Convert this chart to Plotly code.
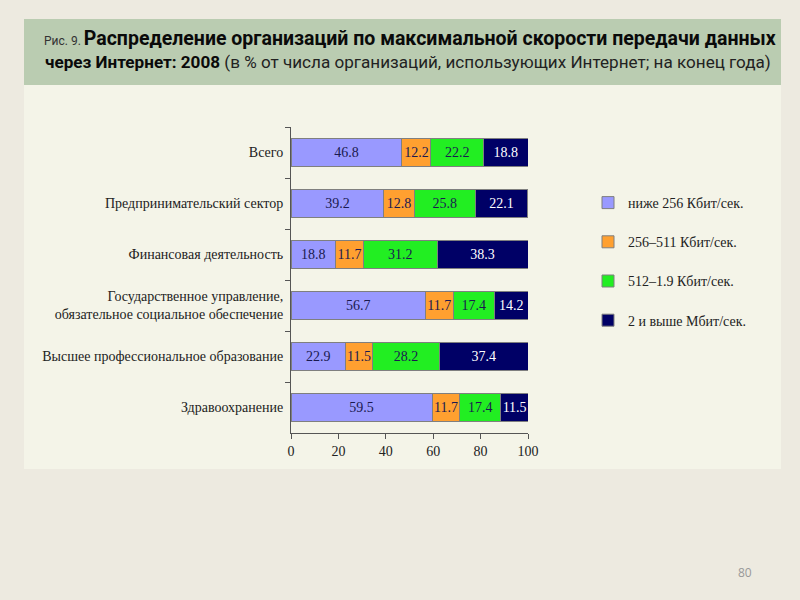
import plotly.graph_objects as go

categories = [
    "Всего",
    "Предпринимательский сектор",
    "Финансовая деятельность",
    "Государственное управление,<br>обязательное социальное обеспечение",
    "Высшее профессиональное образование",
    "Здравоохранение",
]
series_names = [
    "ниже 256 Кбит/сек.",
    "256–511 Кбит/сек.",
    "512–1.9 Кбит/сек.",
    "2 и выше Мбит/сек.",
]
below_256 = [46.8, 39.2, 18.8, 56.7, 22.9, 59.5]
k256_511 = [12.2, 12.8, 11.7, 11.7, 11.5, 11.7]
k512_19 = [22.2, 25.8, 31.2, 17.4, 28.2, 17.4]
m2_plus = [18.8, 22.1, 38.3, 14.2, 37.4, 11.5]
x_ticks = [0, 20, 40, 60, 80, 100]

series_values = [below_256, k256_511, k512_19, m2_plus]
colors = ["#9999FF", "#FFA030", "#22EE22", "#000066"]
text_colors = ["#1A1A50", "#1A1A50", "#1A1A50", "#FFFFFF"]

W, H = 800, 600
SERIF = "Liberation Serif, Times New Roman, serif"
SANS = "Roboto, Liberation Sans, sans-serif"

fig = go.Figure()
for i, (name, vals) in enumerate(zip(series_names, series_values)):
    fig.add_trace(go.Bar(
        y=categories, x=vals, name=name, orientation="h",
        marker=dict(color=colors[i], line=dict(color="#7F7F7F", width=1)),
        text=[f"{v:.1f}" for v in vals], textposition="inside",
        insidetextanchor="middle", constraintext="none", textangle=0,
        textfont=dict(family=SERIF, size=14, color=text_colors[i]),
        width=0.54, legendgroup=str(i), hoverinfo="x+name",
    ))

def px(x):
    return x / W

def py(y):
    return 1 - y / H

shapes = [
    dict(type="rect", xref="paper", yref="paper", x0=px(24), x1=px(781), y0=py(85), y1=py(19),
         fillcolor="#BACCB1", line=dict(width=0), layer="below"),
    dict(type="rect", xref="paper", yref="paper", x0=px(24), x1=px(781), y0=py(469), y1=py(85),
         fillcolor="#F4F4E8", line=dict(width=0), layer="below"),
]

annotations = [
    dict(xref="paper", yref="paper", x=px(410), y=py(38), xanchor="center", yanchor="middle",
         showarrow=False,
         text="<span style='font-size:12px;font-weight:normal;color:#333'>Рис. 9. </span>"
              "<b>Распределение организаций по максимальной скорости передачи данных</b>",
         font=dict(family=SANS, size=19.5, color="#0A0A0A")),
    dict(xref="paper", yref="paper", x=px(408), y=py(62), xanchor="center", yanchor="middle",
         showarrow=False,
         text="<b>через Интернет: 2008</b> "
              "<span style='color:#222'>(в % от числа организаций, использующих Интернет; на конец года)</span>",
         font=dict(family=SANS, size=17.1, color="#0A0A0A")),
    dict(xref="paper", yref="paper", x=px(745), y=py(572), xanchor="center", yanchor="middle",
         showarrow=False, text="80",
         font=dict(family="Open Sans, DejaVu Sans, sans-serif", size=12, color="#999999")),
]

fig.update_layout(
    width=W, height=H,
    margin=dict(l=0, r=0, t=0, b=0),
    paper_bgcolor="#EDEAE0",
    plot_bgcolor="rgba(0,0,0,0)",
    barmode="stack",
    shapes=shapes,
    annotations=annotations,
    showlegend=True,
    legend=dict(
        x=px(588), y=py(187), xanchor="left", yanchor="top",
        traceorder="grouped", tracegroupgap=18,
        font=dict(family=SERIF, size=14, color="#222222"),
        bgcolor="rgba(0,0,0,0)", itemwidth=30,
    ),
    xaxis=dict(
        domain=[px(291), px(528)], range=[0, 100],
        tickvals=x_ticks, ticktext=[str(t) for t in x_ticks],
        showgrid=False, zeroline=False,
        showline=True, linecolor="#555555", linewidth=1,
        ticks="outside", ticklen=5, tickcolor="#555555",
        tickfont=dict(family=SERIF, size=14, color="#222222"),
        automargin=False, fixedrange=True,
    ),
    yaxis=dict(
        domain=[py(433), py(127)],
        categoryorder="array", categoryarray=categories, autorange="reversed",
        showgrid=False, zeroline=False,
        showline=True, linecolor="#555555", linewidth=1,
        ticks="outside", ticklen=5, tickcolor="#555555", tickson="boundaries",
        tickfont=dict(family=SERIF, size=14, color="#222222"),
        automargin=False, ticklabelstandoff=4,
    ),
)

fig.write_html(
    "out.html",
    config={"displayModeBar": False},
    post_script="document.body.style.margin='0';document.body.style.background='#EDEAE0';",
)
